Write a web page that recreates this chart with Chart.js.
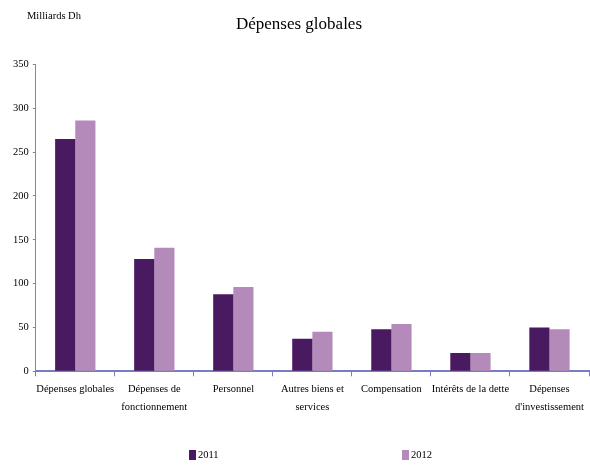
<!DOCTYPE html>
<html lang="fr">
<head>
<meta charset="UTF-8">
<title>Dépenses globales</title>
<script src="https://cdn.jsdelivr.net/npm/chart.js"></script>
<style>
  html, body { margin: 0; padding: 0; background: #fff; }
  #wrap { width: 590px; height: 467px; }
</style>
</head>
<body>
<div id="wrap"><canvas id="myChart" width="590" height="467"></canvas></div>
<script>
// données (milliards de dirhams)
const categories = [
  ['Dépenses globales'],
  ['Dépenses de', 'fonctionnement'],
  ['Personnel'],
  ['Autres biens et', 'services'],
  ['Compensation'],
  ['Intérêts de la dette'],
  ['Dépenses', "d'investissement"]
];
const values2011 = [265, 128, 88, 37, 48, 21, 50];
const values2012 = [286, 141, 96, 45, 54, 21, 48];
const seriesNames = ['2011', '2012'];
const yTicks = [0, 50, 100, 150, 200, 250, 300, 350];

const serif = "'Liberation Serif', 'DejaVu Serif', serif";

// texte "Milliards Dh" + légende en bas, dessinés à la main
const extras = {
  id: 'extras',
  afterDraw(chart) {
    const ctx = chart.ctx;
    ctx.save();
    ctx.font = '10.5px ' + serif;
    ctx.fillStyle = '#000';
    ctx.textBaseline = 'middle';
    ctx.fillText('Milliards Dh', 27, 16);

    // légende : une entrée par série, espacées comme dans l'original
    const xs = [189, 402];
    chart.data.datasets.forEach((ds, i) => {
      ctx.fillStyle = ds.backgroundColor;
      ctx.fillRect(xs[i], 450, 7, 10);
      ctx.fillStyle = '#000';
      ctx.fillText(ds.label, xs[i] + 9, 455.5);
    });
    ctx.restore();
  }
};

const ctx = document.getElementById('myChart').getContext('2d');
const myChart = new Chart(ctx, {
  type: 'bar',
  data: {
    labels: categories,
    datasets: [{
      label: seriesNames[0],
      data: values2011,
      backgroundColor: '#4a1a60',
      categoryPercentage: 0.51,
      barPercentage: 1
    }, {
      label: seriesNames[1],
      data: values2012,
      backgroundColor: '#b38ab9',
      categoryPercentage: 0.51,
      barPercentage: 1
    }]
  },
  options: {
    responsive: false,
    animation: false,
    layout: { padding: { left: 9, right: 1, top: 0, bottom: 47 } },
    plugins: {
      title: {
        display: true,
        text: 'Dépenses globales',
        font: { family: serif, size: 17, weight: 'normal' },
        color: '#000',
        padding: { top: 14, bottom: 30 }
      },
      legend: { display: false },
      tooltip: { enabled: false }
    },
    scales: {
      y: {
        min: 0,
        max: 350,
        afterBuildTicks: axis => { axis.ticks = yTicks.map(v => ({ value: v })); },
        grid: { display: true, drawOnChartArea: false, tickLength: 3, color: '#888' },
        border: { color: '#888', width: 1 },
        ticks: { font: { family: serif, size: 10.5 }, color: '#000', padding: 4 }
      },
      x: {
        grid: { offset: true, drawOnChartArea: false, tickLength: 5, color: '#7b7bc4' },
        border: { color: '#7b7bc4', width: 2 },
        ticks: { font: { family: serif, size: 10.5, lineHeight: 1.7 }, color: '#000', maxRotation: 0, autoSkip: false, padding: 4 }
      }
    }
  },
  plugins: [extras]
});
</script>
</body>
</html>
